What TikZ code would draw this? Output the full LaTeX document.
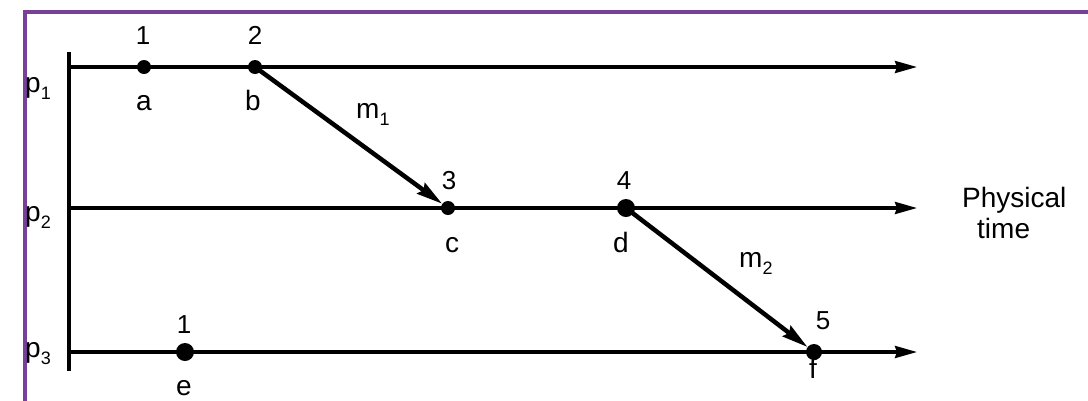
\documentclass[tikz,border=0pt]{standalone}
\usepackage{fontspec}
\setmainfont{Liberation Sans}
\usetikzlibrary{arrows.meta}
\definecolor{framepurple}{RGB}{120,64,155}
\newcommand\lsub[1]{\raisebox{-7pt}{\fontsize{18}{18}\selectfont #1}}

\begin{document}
\begin{tikzpicture}[x=1pt, y=-1pt,
  event/.style={circle, fill=black, inner sep=0pt, minimum size=#1},
  stamp/.style={anchor=base, inner sep=0pt, font=\fontsize{26}{26}\selectfont},
  tag/.style={anchor=base, inner sep=0pt, font=\fontsize{28}{28}\selectfont},
  proc/.style={anchor=base west, inner sep=0pt, font=\fontsize{28}{28}\selectfont},
  timeline/.style={-{Stealth[length=22pt, width=12pt, inset=2pt]}, line width=3.2pt},
  msg/.style={-{Stealth[length=26pt, width=13pt, inset=3pt]}, line width=4.5pt}]
  \useasboundingbox (0,0) rectangle (1088,400);
  \draw[framepurple, line width=4pt] (25,410) -- (25,12) -- (1100,12);

  % axis and process lines
  \coordinate (top) at (69,52);
  \coordinate (bot) at (69,371);
  \draw[line width=3.2pt] (top) -- (bot);
  \coordinate (s1) at (69,67);
  \coordinate (t1) at (917,67);
  \coordinate (s2) at (69,208);
  \coordinate (t2) at (917,208);
  \coordinate (s3) at (69,352);
  \coordinate (t3) at (917,352);
  \draw[timeline] (s1) -- (t1);
  \draw[timeline] (s2) -- (t2);
  \draw[timeline] (s3) -- (t3);
  \node[proc] (p1) at (25,92) {p\lsub{1}};
  \node[proc] (p2) at (25,221) {p\lsub{2}};
  \node[proc] (p3) at (25,357) {p\lsub{3}};

  % events
  \node[event=14pt] (a) at (144,67) {};
  \node[event=14pt] (b) at (255,67) {};
  \node[event=14pt] (c) at (448,208) {};
  \node[event=18pt] (d) at (626,208) {};
  \node[event=18pt] (e) at (185,352) {};
  \node[event=16pt] (f) at (814,352) {};

  \node[stamp] (na) at (143,44) {1};
  \node[stamp] (nb) at (255,44) {2};
  \node[stamp] (nc) at (449,189) {3};
  \node[stamp] (nd) at (624,189) {4};
  \node[stamp] (ne) at (184,333) {1};
  \node[stamp] (nf) at (823,329) {5};

  \node[tag] (la) at (144,110) {a};
  \node[tag] (lb) at (253,110) {b};
  \node[tag] (lc) at (452,252) {c};
  \node[tag] (ld) at (621,252) {d};
  \node[tag] (le) at (184,395) {e};
  \node[tag] (lf) at (813,378) {f};

  % messages
  \draw[msg] (b.center) -- (c);
  \draw[msg] (d.center) -- (f);
  \node[proc] (m1) at (356,118) {m\lsub{1}};
  \node[proc] (m2) at (739,267) {m\lsub{2}};

  \node[proc] (phys) at (962,207) {Physical};
  \node[proc] (time) at (977,238) {time};
\end{tikzpicture}
\end{document}
